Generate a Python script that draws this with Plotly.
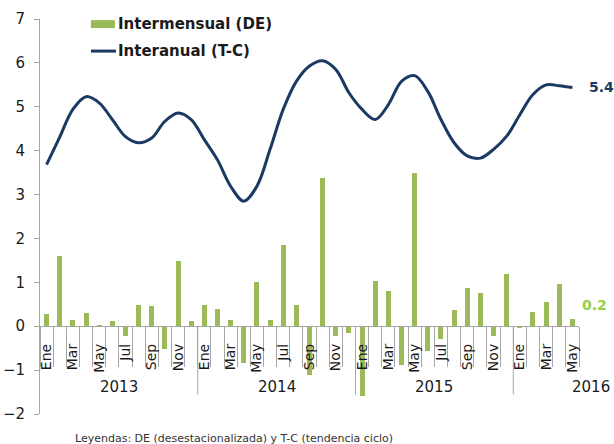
import plotly.graph_objects as go

# Monthly series, Jan 2013 - May 2016
years = ["2013"] * 12 + ["2014"] * 12 + ["2015"] * 12 + ["2016"] * 5
month_names = ["Ene", "Feb", "Mar", "Abr", "May", "Jun",
               "Jul", "Ago", "Sep", "Oct", "Nov", "Dic"]
months = (month_names * 4)[:41]

# Intermensual (desestacionalizada), %
intermensual = [
    0.28, 1.59, 0.15, 0.30, 0.01, 0.13, -0.23, 0.48, 0.45, -0.51, 1.49, 0.13,
    0.48, 0.40, 0.15, -0.84, 1.01, 0.15, 1.84, 0.48, -1.10, 3.37, -0.23, -0.15,
    -1.58, 1.04, 0.81, -0.89, 3.48, -0.57, -0.30, 0.38, 0.87, 0.75, -0.23, 1.20,
    -0.04, 0.32, 0.56, 0.97, 0.17,
]

# Interanual (tendencia ciclo), %
interanual = [
    3.68, 4.31, 4.94, 5.23, 5.09, 4.71, 4.32, 4.18, 4.29, 4.67, 4.86, 4.71,
    4.25, 3.79, 3.19, 2.85, 3.19, 4.03, 4.94, 5.58, 5.93, 6.05, 5.85, 5.32,
    4.94, 4.71, 5.05, 5.58, 5.71, 5.35, 4.71, 4.18, 3.88, 3.83, 4.03, 4.33,
    4.82, 5.28, 5.50, 5.48, 5.44,
]

y_range = [-2, 7]

GREEN = "#9BBB59"
LABEL_GREEN = "#92D050"
NAVY = "#1B3A63"
GREY = "#A6A6A6"
TEXT = "#1A1A1A"
FONT = "DejaVu Sans"

W, H = 614, 444
ML, MR, MT, MB = 40, 34.5, 19.4, 29.5
plot_w = W - ML - MR
plot_h = H - MT - MB


def px_x(px):
    return (px - ML) / plot_w


def px_y(py):
    return (H - MB - py) / plot_h


idx = list(range(len(months)))

fig = go.Figure()
fig.add_trace(go.Bar(
    x=idx, y=intermensual, width=0.38,
    marker=dict(color=GREEN, line=dict(width=0)),
    name="Intermensual (DE)", showlegend=False,
))
fig.add_trace(go.Scatter(
    x=idx, y=interanual, mode="lines",
    line=dict(color=NAVY, width=3, shape="spline", smoothing=1.0),
    name="Interanual (T-C)", showlegend=False,
))

# Category axis crossing at zero
zero_pos = (0 - y_range[0]) / (y_range[1] - y_range[0])
label_idx = [i for i in idx if i % 2 == 0]
boundaries = [i - 0.5 for i in range(len(months) + 1)]

shapes = []
annotations = []

# Year groups: separators and centred labels
year_order = []
for y in years:
    if y not in year_order:
        year_order.append(y)
for k, yr in enumerate(year_order):
    members = [i for i, y in enumerate(years) if y == yr]
    if k > 0:
        shapes.append(dict(
            type="line", xref="x", yref="y", x0=members[0] - 0.5, x1=members[0] - 0.5,
            ysizemode="pixel", yanchor=0, y0=0, y1=-68,
            line=dict(color=GREY, width=1),
        ))
    if k < len(year_order) - 1:
        annotations.append(dict(
            x=sum(members) / len(members), y=0, xref="x", yref="y",
            text=yr, showarrow=False, xanchor="center", yanchor="middle",
            yshift=-61, font=dict(family=FONT, size=15, color=TEXT),
        ))
    else:
        annotations.append(dict(
            x=1, y=0, xref="paper", yref="y",
            text=yr, showarrow=False, xanchor="right", yanchor="middle",
            xshift=MR - 2, yshift=-61, font=dict(family=FONT, size=15, color=TEXT),
        ))

# End-of-series value labels
annotations.append(dict(
    x=idx[-1], y=interanual[-1], xref="x", yref="y",
    text=f"{interanual[-1]:.1f}", showarrow=False, xanchor="left", yanchor="middle",
    xshift=15, font=dict(family=FONT, size=14, color=NAVY, weight="bold"),
))
annotations.append(dict(
    x=idx[-1], y=intermensual[-1], xref="x", yref="y",
    text=f"{intermensual[-1]:.1f}", showarrow=False, xanchor="left", yanchor="middle",
    xshift=8, yshift=14, font=dict(family=FONT, size=14, color=LABEL_GREEN, weight="bold"),
))

# Legend drawn in the top-left corner
shapes.append(dict(
    type="rect", xref="paper", yref="paper",
    x0=px_x(91), x1=px_x(115), y0=px_y(28.5), y1=px_y(20.5),
    fillcolor=GREEN, line=dict(width=0),
))
shapes.append(dict(
    type="line", xref="paper", yref="paper",
    x0=px_x(91), x1=px_x(116), y0=px_y(51.5), y1=px_y(51.5),
    line=dict(color=NAVY, width=3),
))
for text, py in [("Intermensual (DE)", 24.5), ("Interanual (T-C)", 51.5)]:
    annotations.append(dict(
        x=px_x(116), y=px_y(py), xref="paper", yref="paper",
        text=text, showarrow=False, xanchor="left", yanchor="middle",
        font=dict(family=FONT, size=15, color=TEXT, weight="bold"),
    ))

# Footnote
annotations.append(dict(
    x=px_x(73), y=px_y(439), xref="paper", yref="paper",
    text="Leyendas: DE (desestacionalizada) y T-C (tendencia ciclo)",
    showarrow=False, xanchor="left", yanchor="middle",
    font=dict(family=FONT, size=11, color="#333333"),
))

fig.update_layout(
    width=W, height=H,
    margin=dict(l=ML, r=MR, t=MT, b=MB, pad=0, autoexpand=False),
    paper_bgcolor="white", plot_bgcolor="white",
    bargap=0, showlegend=False,
    font=dict(family=FONT, color=TEXT),
    xaxis=dict(
        range=[-0.5, len(months) - 0.5], automargin=False,
        anchor="free", position=zero_pos,
        showline=True, linecolor=GREY, linewidth=1,
        showgrid=False, zeroline=False,
        tickmode="array", tickvals=label_idx,
        ticktext=[months[i] for i in label_idx],
        tickangle=-90, ticks="", ticklabelstandoff=11,
        tickfont=dict(family=FONT, size=14, color=TEXT),
        minor=dict(tickmode="array", tickvals=boundaries, ticks="outside",
                   ticklen=40, tickcolor=GREY, tickwidth=1),
    ),
    yaxis=dict(
        range=y_range, dtick=1, tick0=0, automargin=False,
        showline=True, linecolor=GREY, linewidth=1,
        showgrid=False, zeroline=False,
        ticks="outside", ticklen=5, tickcolor=GREY,
        ticklabelstandoff=6,
        tickfont=dict(family=FONT, size=15, color=TEXT),
    ),
    shapes=shapes,
    annotations=annotations,
)

fig.write_html("out.html")
